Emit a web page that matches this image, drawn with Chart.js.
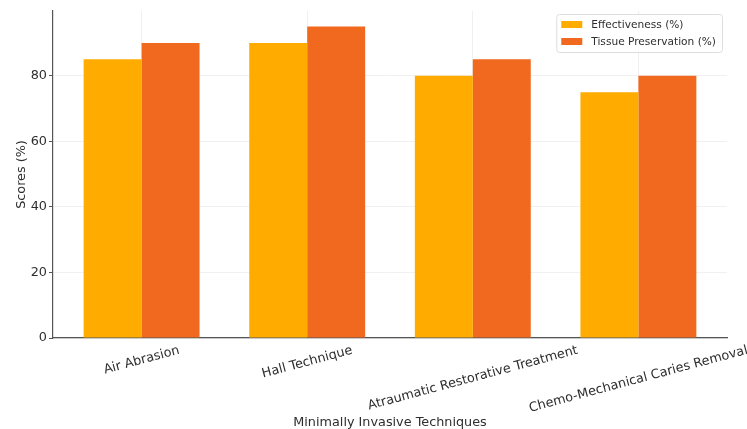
<!DOCTYPE html>
<html>
<head>
<meta charset="utf-8">
<script src="https://cdn.jsdelivr.net/npm/chart.js@4"></script>
<style>
  html, body { margin: 0; padding: 0; background: #fff; }
  #wrap { width: 747px; height: 429px; }
</style>
</head>
<body>
<div id="wrap"><canvas id="chart" width="747" height="429"></canvas></div>
<script>
// data
const techniques = ['Air Abrasion', 'Hall Technique', 'Atraumatic Restorative Treatment', 'Chemo-Mechanical Caries Removal'];
const effectiveness = [85, 90, 80, 75];
const tissuePreservation = [90, 95, 85, 80];
const seriesNames = ['Effectiveness (%)', 'Tissue Preservation (%)'];
const yTicks = [0, 20, 40, 60, 80];

const FONT = "'DejaVu Sans', sans-serif";
const FS = 12.8;
const colors = ['#FFAB00', '#F1691F'];

// rotated, centred category labels (matplotlib style) and boxed legend
const decorations = {
    id: 'decorations',
    afterDraw(chart) {
        const ctx = chart.ctx;
        const xs = chart.scales.x;
        const area = chart.chartArea;
        const ang = 15 * Math.PI / 180;

        ctx.save();
        ctx.font = FS + 'px ' + FONT;
        ctx.fillStyle = '#2e2e2e';
        ctx.textAlign = 'center';
        ctx.textBaseline = 'middle';
        techniques.forEach((label, i) => {
            const x = xs.getPixelForTick(i);
            const w = ctx.measureText(label).width;
            const bh = w * Math.sin(ang) + 15 * Math.cos(ang);
            const y = area.bottom + 5 + bh / 2;
            ctx.save();
            ctx.translate(x, y);
            ctx.rotate(-ang);
            ctx.fillText(label, 0, 0);
            ctx.restore();
        });
        ctx.restore();

        // legend
        ctx.save();
        ctx.font = '10.6px ' + FONT;
        const maxW = Math.max(...seriesNames.map(s => ctx.measureText(s).width));
        const boxW = 5 + 21 + 9 + maxW + 6;
        const boxH = 38;
        const bx = area.right - 5 - boxW;
        const by = area.top + 3;
        ctx.fillStyle = 'rgba(255,255,255,0.85)';
        ctx.strokeStyle = '#dddddd';
        ctx.lineWidth = 1;
        ctx.beginPath();
        ctx.roundRect(bx + 0.5, by + 0.5, boxW, boxH, 3);
        ctx.fill();
        ctx.stroke();
        ctx.textAlign = 'left';
        ctx.textBaseline = 'middle';
        seriesNames.forEach((name, i) => {
            const yy = by + 7 + i * 17;
            ctx.fillStyle = colors[i];
            ctx.fillRect(bx + 5, yy, 21, 7);
            ctx.fillStyle = '#2e2e2e';
            ctx.fillText(name, bx + 35, yy + 4);
        });
        ctx.restore();
    }
};

new Chart(document.getElementById('chart'), {
    type: 'bar',
    data: {
        labels: techniques,
        datasets: [
            { label: seriesNames[0], data: effectiveness, backgroundColor: colors[0] },
            { label: seriesNames[1], data: tissuePreservation, backgroundColor: colors[1] }
        ]
    },
    options: {
        responsive: false,
        animation: false,
        layout: { padding: { top: 11, right: 20, left: 0, bottom: 0 } },
        datasets: { bar: { categoryPercentage: 0.7, barPercentage: 1.0 } },
        plugins: {
            legend: { display: false },
            tooltip: { enabled: false }
        },
        scales: {
            x: {
                offset: true,
                ticks: { display: false },
                grid: { offset: false, color: '#f0f0f0', drawTicks: false },
                border: { display: true, color: '#555', width: 1.2 },
                title: {
                    display: true,
                    text: 'Minimally Invasive Techniques',
                    color: '#2e2e2e',
                    font: { family: FONT, size: FS, lineHeight: 1.0 },
                    padding: { top: 0, bottom: 0 }
                },
                afterFit(scale) { scale.height = 91; },
                // matplotlib-like margins: range -0.535 .. 3.535
                afterBuildTicks(scale) {
                    scale._startValue = -0.535;
                    scale._valueRange = techniques.length - 1 + 1.07;
                }
            },
            y: {
                min: 0,
                max: 99.75,
                afterBuildTicks(scale) {
                    scale.ticks = yTicks.map(v => ({ value: v }));
                },
                ticks: {
                    color: '#2e2e2e',
                    font: { family: FONT, size: FS },
                    padding: 2
                },
                grid: { color: '#f0f0f0', tickColor: '#555', tickLength: 4 },
                border: { display: true, color: '#555', width: 1.2 },
                title: {
                    display: true,
                    text: 'Scores (%)',
                    color: '#2e2e2e',
                    font: { family: FONT, size: FS },
                    padding: { top: 14, bottom: 0 }
                },
                afterFit(scale) { scale.width = 53; }
            }
        }
    },
    plugins: [decorations]
});
</script>
</body>
</html>
